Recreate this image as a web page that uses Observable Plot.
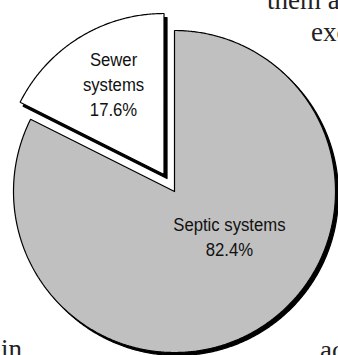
<!DOCTYPE html>
<html>
<head>
<meta charset="utf-8">
<script src="https://cdn.jsdelivr.net/npm/d3@7"></script>
<script src="https://cdn.jsdelivr.net/npm/@observablehq/plot@0.6"></script>
<style>
  html, body { margin: 0; padding: 0; background: #fff; }
  #wrap { position: relative; width: 338px; height: 355px; overflow: hidden; background: #fff; }
  #chart { position: absolute; left: 0; top: 0; }
  .frag { position: absolute; font-family: "Liberation Serif", "Times New Roman", serif; font-size: 27px; line-height: 27px; color: #222; white-space: nowrap; }
  svg text { letter-spacing: 0; }
</style>
</head>
<body>
<div id="wrap">
  <div id="chart"></div>
  <span class="frag" style="left:267px; top:-13px;">them al</span>
  <span class="frag" style="left:311px; top:19px;">exc</span>
  <span class="frag" style="left:1px; top:336px;">in</span>
  <span class="frag" style="left:320px; top:337px;">ac</span>
</div>
<script>
// ---- data ----
const categories = ["Septic systems", "Sewer systems"];
const shares = [82.4, 17.6];
const labels = ["Septic systems\n82.4%", "Sewer\nsystems\n17.6%"];
const fills = ["#c0c0c0", "#ffffff"];

// ---- layout (pixels / radius units) ----
const layout = {
  W: 338, H: 355, cx: 174, cy: 191, r: 161,
  explode: [0, 0.124],
  labelRadius: [0.437, 0.649],
  labelShiftDeg: [-19.6, 2.8],
  shadow: [[3, 3], [3, 4]]
};

const pie = d3.pie().sort(null).value(d => d)(shares);
const points = [];
const labelData = [];
const deg = Math.PI / 180;
pie.forEach((p, i) => {
  const mid = (p.startAngle + p.endAngle) / 2;
  const ox = layout.explode[i] * Math.sin(mid);
  const oy = layout.explode[i] * Math.cos(mid);
  const slice = categories[i];
  points.push({slice, x: ox, y: oy});
  const n = Math.max(2, Math.ceil((p.endAngle - p.startAngle) / (0.5 * deg)));
  for (let k = 0; k <= n; k++) {
    const a = p.startAngle + (p.endAngle - p.startAngle) * k / n;
    points.push({slice, x: ox + Math.sin(a), y: oy + Math.cos(a)});
  }
  points.push({slice, x: ox, y: oy});
  const la = mid + layout.labelShiftDeg[i] * deg;
  labelData.push({
    slice, text: labels[i],
    x: ox + layout.labelRadius[i] * Math.sin(la),
    y: oy + layout.labelRadius[i] * Math.cos(la)
  });
});

const {W, H, cx, cy, r} = layout;
const shadowMarks = categories.map((c, i) =>
  Plot.line(points.filter(d => d.slice === c), {
    x: "x", y: "y", fill: "black", stroke: "black", strokeWidth: 1.2,
    dx: layout.shadow[i][0], dy: layout.shadow[i][1], curve: "linear"
  })
);

const plot = Plot.plot({
  width: W, height: H,
  margin: 0,
  x: {domain: [-cx / r, (W - cx) / r], axis: null},
  y: {domain: [-(H - cy) / r, cy / r], axis: null},
  color: {domain: categories, range: fills},
  style: {background: "white", fontFamily: "'Liberation Sans', Arial, sans-serif", fontSize: "19px", color: "#111"},
  marks: [
    ...shadowMarks,
    Plot.line(points, {x: "x", y: "y", z: "slice", fill: "slice", stroke: "black", strokeWidth: 1.2, curve: "linear", strokeLinejoin: "miter"}),
    Plot.text(labelData, {x: "x", y: "y", text: "text", fontSize: 19, lineHeight: 1.3, fill: "#111", textAnchor: "middle"})
  ]
});
plot.querySelectorAll('g[aria-label="text"] text').forEach(t => {
  const tr = t.getAttribute("transform") || "";
  t.setAttribute("transform", tr + " scale(0.88,1)");
});
document.getElementById("chart").appendChild(plot);
</script>
</body>
</html>
